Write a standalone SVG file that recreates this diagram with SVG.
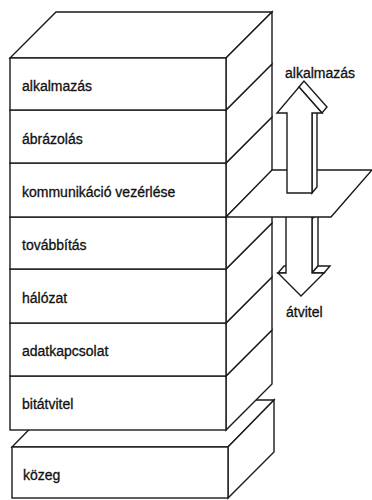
<svg xmlns="http://www.w3.org/2000/svg" width="372" height="500" viewBox="0 0 372 500">
<style>
.s{fill:#fff;stroke:#1a1a1a;stroke-width:1.4;stroke-linejoin:miter}
.t{font-family:"Liberation Sans",Arial,sans-serif;font-size:14px;fill:#111;stroke:#111;stroke-width:0.3}
</style>
<rect width="372" height="500" fill="#fff"/>
<g id="kozeg">
<polygon class="s" points="12,447 228,447 274,400 58,400"/>
<polygon class="s" points="228,447 274,400 274,452 228,498"/>
<rect class="s" x="12" y="447" width="216" height="51"/>
<text class="t" x="23" y="480">közeg</text>
</g>
<g id="bitatvitel">
<polygon class="s" points="226,376 272,330 272,384 226,430"/>
<rect class="s" x="10" y="376" width="216" height="54"/>
<text class="t" x="22" y="409">bitátvitel</text>
</g>
<g id="adatkapcsolat">
<polygon class="s" points="226,323 272,277 272,330 226,376"/>
<rect class="s" x="10" y="323" width="216" height="53"/>
<text class="t" x="22" y="356">adatkapcsolat</text>
</g>
<g id="halozat">
<polygon class="s" points="226,269 272,223 272,277 226,323"/>
<rect class="s" x="10" y="269" width="216" height="54"/>
<text class="t" x="22" y="303">hálózat</text>
</g>
<g id="tovabbitas">
<polygon class="s" points="226,217 272,171 272,223 226,269"/>
<rect class="s" x="10" y="217" width="216" height="52"/>
<text class="t" x="22" y="250">továbbítás</text>
</g>
<g id="kommunikacio">
<polygon class="s" points="226,163 272,117 272,171 226,217"/>
<rect class="s" x="10" y="163" width="216" height="54"/>
<text class="t" x="22" y="197">kommunikáció vezérlése</text>
</g>
<g id="abrazolas">
<polygon class="s" points="226,110 272,64 272,117 226,163"/>
<rect class="s" x="10" y="110" width="216" height="53"/>
<text class="t" x="22" y="144">ábrázolás</text>
</g>
<g id="alkalmazas">
<polygon class="s" points="10,58 226,58 272,12 56,12"/>
<polygon class="s" points="226,58 272,12 272,64 226,110"/>
<rect class="s" x="10" y="58" width="216" height="52"/>
<text class="t" x="22" y="91">alkalmazás</text>
</g>
<g id="connectors">
<g id="down-arrow">
<polygon class="s" points="312,219 318,212 318,266 312,273"/>
<polygon class="s" points="312,273 324,273 330,266 318,266"/>
<polygon class="s" points="278,273 286,273 292,266 284,266"/>
<polygon class="s" points="286,200 312,200 312,273 324,273 301,296 278,273 286,273"/>
</g>
<g id="plane">
<polygon class="s" points="226,217 272,170 372,170 331,217"/>
</g>
<g id="up-arrow">
<polygon class="s" points="312,113 317,107 317,187 312,193"/>
<polygon class="s" points="299,87 304,81 327,107 322,113"/>
<polygon class="s" points="287,193 287,113 277,113 299,87 322,113 312,113 312,193"/>
</g>
</g>
<text class="t" x="285" y="78">alkalmazás</text>
<text class="t" x="286" y="317">átvitel</text>
</svg>
